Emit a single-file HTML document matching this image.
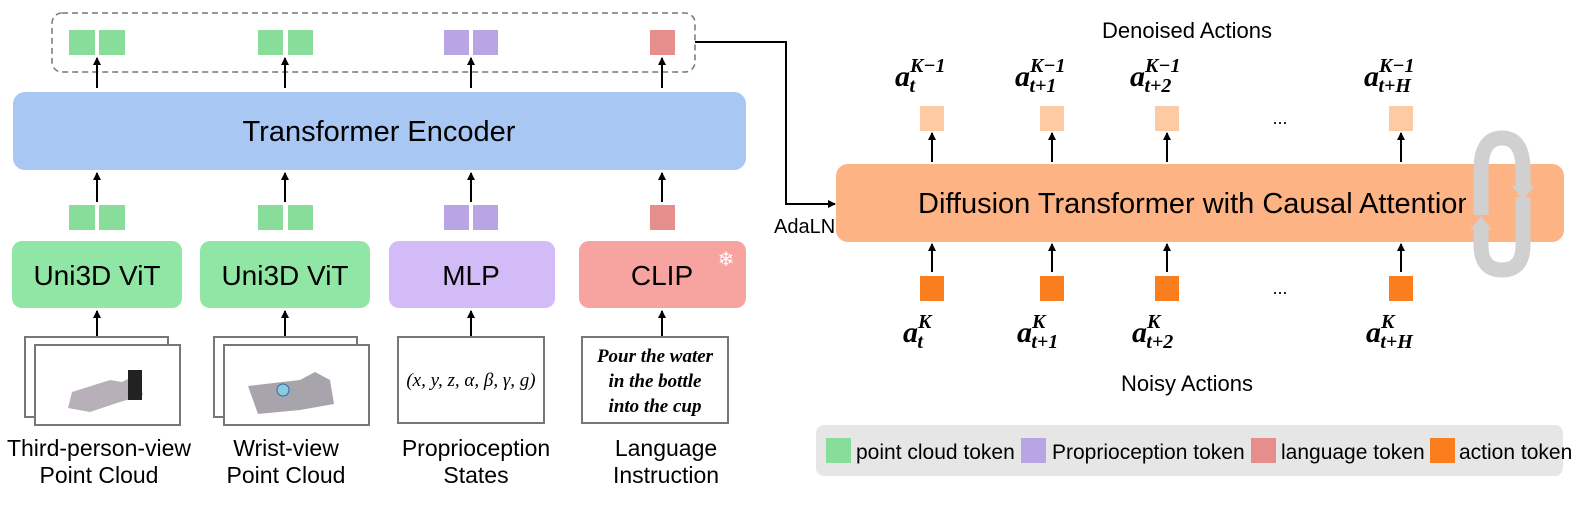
<!DOCTYPE html>
<html><head><meta charset="utf-8"><style>
body{margin:0;background:#fff;}
svg{display:block;font-family:"Liberation Sans",Arial,sans-serif;}
.m{font-family:"Liberation Serif",serif;font-weight:bold;font-style:italic;}
</style></head><body>
<svg width="1578" height="505" viewBox="0 0 1578 505" xmlns="http://www.w3.org/2000/svg">
<defs><marker id="ah" markerWidth="8" markerHeight="8" refX="7" refY="4" orient="auto" markerUnits="userSpaceOnUse"><path d="M0,0 L8,4 L0,8 z" fill="#000"/></marker></defs>
<rect x="52" y="13" width="643" height="59" rx="10" fill="none" stroke="#777" stroke-width="1.5" stroke-dasharray="6,4"/>
<g fill="#88dd9a"><rect x="69" y="30" width="26" height="25"/><rect x="99" y="30" width="26" height="25"/><rect x="258" y="30" width="25" height="25"/><rect x="288" y="30" width="25" height="25"/>
<rect x="69" y="205" width="26" height="25"/><rect x="99" y="205" width="26" height="25"/><rect x="258" y="205" width="25" height="25"/><rect x="288" y="205" width="25" height="25"/></g>
<g fill="#b9a5e4"><rect x="444" y="30" width="25" height="25"/><rect x="473" y="30" width="25" height="25"/><rect x="444" y="205" width="25" height="25"/><rect x="473" y="205" width="25" height="25"/></g>
<g fill="#e58e8c"><rect x="650" y="30" width="25" height="25"/><rect x="650" y="205" width="25" height="25"/></g>
<g stroke="#000" stroke-width="2" marker-end="url(#ah)">
<line x1="97" y1="88" x2="97" y2="58"/><line x1="285" y1="88" x2="285" y2="58"/><line x1="471" y1="88" x2="471" y2="58"/><line x1="662" y1="88" x2="662" y2="58"/>
<line x1="97" y1="202" x2="97" y2="173"/><line x1="285" y1="202" x2="285" y2="173"/><line x1="471" y1="202" x2="471" y2="173"/><line x1="662" y1="202" x2="662" y2="173"/>
<line x1="97" y1="338" x2="97" y2="311"/><line x1="285" y1="338" x2="285" y2="311"/><line x1="471" y1="338" x2="471" y2="311"/><line x1="662" y1="338" x2="662" y2="311"/>
</g>
<rect x="13" y="92" width="733" height="78" rx="12" fill="#a8c7f3"/>
<text x="379" y="141" font-size="29" text-anchor="middle">Transformer Encoder</text>
<rect x="12" y="241" width="170" height="67" rx="10" fill="#90e6a4"/>
<rect x="200" y="241" width="170" height="67" rx="10" fill="#90e6a4"/>
<rect x="389" y="241" width="166" height="67" rx="10" fill="#d2bbf6"/>
<rect x="579" y="241" width="167" height="67" rx="10" fill="#f7a3a0"/>
<g font-size="28" text-anchor="middle"><text x="97" y="285">Uni3D ViT</text><text x="285" y="285">Uni3D ViT</text><text x="471" y="285">MLP</text><text x="662" y="285">CLIP</text></g>
<text x="726" y="266" font-size="20" fill="#fff" text-anchor="middle">❄</text>
<g fill="#fff" stroke="#777" stroke-width="2">
<rect x="25" y="337" width="143" height="80"/><rect x="35" y="345" width="145" height="80"/>
<rect x="214" y="337" width="143" height="80"/><rect x="224" y="345" width="145" height="80"/>
<rect x="398" y="337" width="146" height="86"/><rect x="582" y="337" width="146" height="86"/></g>
<path d="M68,408 L72,392 L110,380 L122,382 L130,378 L140,385 L143,395 L120,402 L90,412 z" fill="#b8b0b8"/>
<rect x="128" y="370" width="14" height="30" fill="#222"/>
<path d="M248,386 L300,380 L315,372 L330,380 L334,404 L300,410 L258,414 z" fill="#a8a4ac"/>
<circle cx="283" cy="390" r="6" fill="#8cd" stroke="#36a"/>
<text x="471" y="386" font-family="Liberation Serif,serif" font-style="italic" font-size="19" text-anchor="middle">(x, y, z, α, β, γ, g)</text>
<g font-family="Liberation Serif,serif" font-style="italic" font-weight="bold" font-size="19" text-anchor="middle"><text x="655" y="362">Pour the water</text><text x="655" y="387">in the bottle</text><text x="655" y="412">into the cup</text></g>
<g font-size="23" text-anchor="middle">
<text x="99" y="456">Third-person-view</text><text x="99" y="483">Point Cloud</text>
<text x="286" y="456">Wrist-view</text><text x="286" y="483">Point Cloud</text>
<text x="476" y="456">Proprioception</text><text x="476" y="483">States</text>
<text x="666" y="456">Language</text><text x="666" y="483">Instruction</text></g>
<polyline points="695,42 786,42 786,204 835,204" fill="none" stroke="#000" stroke-width="2" marker-end="url(#ah)"/>
<text x="774" y="233" font-size="20">AdaLN</text>
<rect x="836" y="164" width="728" height="78" rx="12" fill="#fdb383"/>
<text x="918" y="213" font-size="29">Diffusion Transformer with Causal Attention</text>
<g fill="#fdcaa3"><rect x="920" y="106" width="24" height="25"/><rect x="1040" y="106" width="24" height="25"/><rect x="1155" y="106" width="24" height="25"/><rect x="1389" y="106" width="24" height="25"/></g>
<g fill="#fa7d1e"><rect x="920" y="276" width="24" height="25"/><rect x="1040" y="276" width="24" height="25"/><rect x="1155" y="276" width="24" height="25"/><rect x="1389" y="276" width="24" height="25"/></g>
<g stroke="#000" stroke-width="2" marker-end="url(#ah)">
<line x1="932" y1="162" x2="932" y2="133"/><line x1="1052" y1="162" x2="1052" y2="133"/><line x1="1167" y1="162" x2="1167" y2="133"/><line x1="1401" y1="162" x2="1401" y2="133"/>
<line x1="932" y1="272" x2="932" y2="244"/><line x1="1052" y1="272" x2="1052" y2="244"/><line x1="1167" y1="272" x2="1167" y2="244"/><line x1="1401" y1="272" x2="1401" y2="244"/></g>
<text x="1280" y="124" font-size="18" text-anchor="middle">...</text>
<text x="1280" y="294" font-size="18" text-anchor="middle">...</text>
<rect x="1466" y="192" width="22" height="24" fill="#fdb383"/>
<path d="M1481,215 L1481,170 Q1481,138 1502,138 Q1523,138 1523,170 L1523,188" fill="none" stroke="#d0d0d0" stroke-width="15"/>
<path d="M1512,186 L1534,186 L1523,200 z" fill="#d0d0d0"/>
<path d="M1523,197 L1523,245 Q1523,270 1502,270 Q1481,270 1481,245 L1481,228" fill="none" stroke="#d0d0d0" stroke-width="15"/>
<path d="M1470,230 L1492,230 L1481,216 z" fill="#d0d0d0"/>
<text x="1187" y="38" font-size="22" text-anchor="middle">Denoised Actions</text>
<text x="1187" y="391" font-size="22" text-anchor="middle">Noisy Actions</text>
<g class="m" font-size="30">
<text x="895" y="86">a<tspan font-size="20" dy="-14">K−1</tspan><tspan font-size="20" dx="-36" dy="20">t</tspan></text>
<text x="1015" y="86">a<tspan font-size="20" dy="-14">K−1</tspan><tspan font-size="20" dx="-36" dy="20">t+1</tspan></text>
<text x="1130" y="86">a<tspan font-size="20" dy="-14">K−1</tspan><tspan font-size="20" dx="-36" dy="20">t+2</tspan></text>
<text x="1364" y="86">a<tspan font-size="20" dy="-14">K−1</tspan><tspan font-size="20" dx="-36" dy="20">t+H</tspan></text>
<text x="903" y="342">a<tspan font-size="20" dy="-14">K</tspan><tspan font-size="20" dx="-14" dy="20">t</tspan></text>
<text x="1017" y="342">a<tspan font-size="20" dy="-14">K</tspan><tspan font-size="20" dx="-14" dy="20">t+1</tspan></text>
<text x="1132" y="342">a<tspan font-size="20" dy="-14">K</tspan><tspan font-size="20" dx="-14" dy="20">t+2</tspan></text>
<text x="1366" y="342">a<tspan font-size="20" dy="-14">K</tspan><tspan font-size="20" dx="-14" dy="20">t+H</tspan></text>
</g>
<rect x="816" y="425" width="747" height="51" rx="8" fill="#e6e6e6"/>
<rect x="826" y="438" width="25" height="25" fill="#88dd9a"/>
<rect x="1021" y="438" width="25" height="25" fill="#b9a5e4"/>
<rect x="1251" y="438" width="25" height="25" fill="#e58e8c"/>
<rect x="1430" y="438" width="25" height="25" fill="#fa7d1e"/>
<g font-size="21"><text x="856" y="459">point cloud token</text><text x="1052" y="459">Proprioception token</text><text x="1281" y="459">language token</text><text x="1459" y="459">action token</text></g>
</svg>
</body></html>
